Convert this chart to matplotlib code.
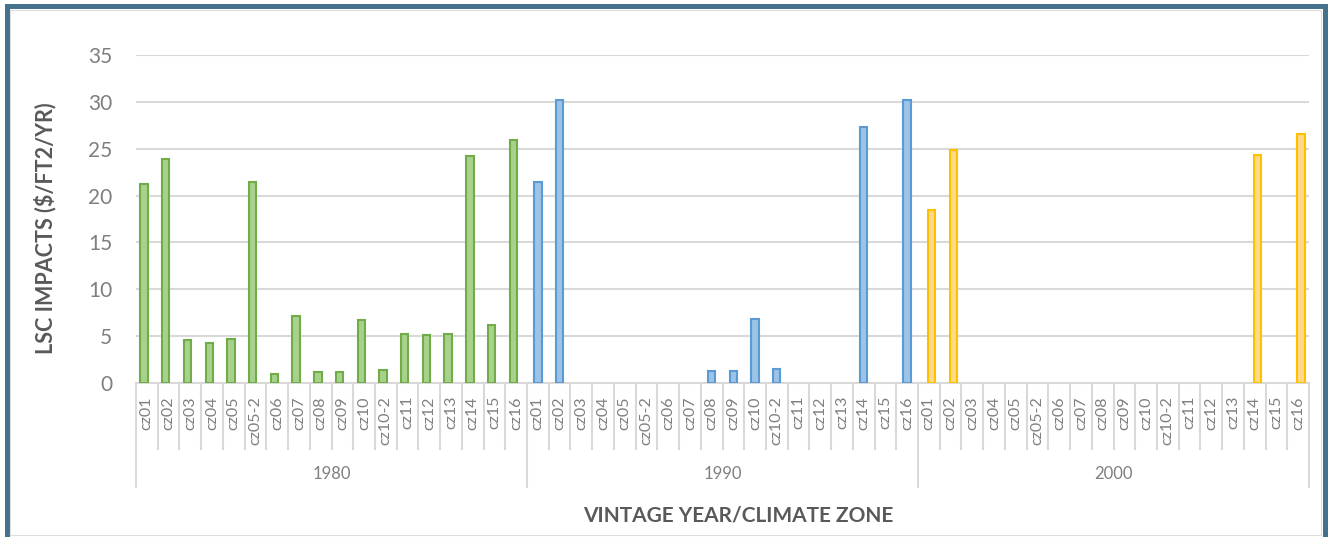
import numpy as np
import matplotlib.pyplot as plt
from matplotlib.patches import Rectangle
import matplotlib.transforms as mtransforms

# --- data ---
zones = ['cz01', 'cz02', 'cz03', 'cz04', 'cz05', 'cz05-2', 'cz06', 'cz07', 'cz08',
         'cz09', 'cz10', 'cz10-2', 'cz11', 'cz12', 'cz13', 'cz14', 'cz15', 'cz16']
years = ['1980', '1990', '2000']

lsc_1980 = [21.2, 23.9, 4.6, 4.3, 4.7, 21.5, 1.0, 7.1, 1.2,
            1.2, 6.7, 1.4, 5.2, 5.1, 5.2, 24.2, 6.2, 25.9]
lsc_1990 = [21.4, 30.2, 0, 0, 0, 0, 0, 0, 1.3,
            1.3, 6.8, 1.5, 0, 0, 0, 27.3, 0, 30.2]
lsc_2000 = [18.5, 24.9, 0, 0, 0, 0, 0, 0, 0,
            0, 0, 0, 0, 0, 0, 24.3, 0, 26.6]

fills = ['#A9D18E', '#9DC3E6', '#FFD98A']
edges = ['#70AD47', '#5B9BD5', '#FFC000']
# each year is its own series, so bars sit left / centre / right in the slot
shift = [-0.13, 0.0, 0.13]

plt.rcParams['font.family'] = ['Lato', 'DejaVu Sans']

fig = plt.figure(figsize=(13.3, 5.37), dpi=100)
W, H = 1330, 537

# outer frame (dark teal, bottom edge cut off)
fig.patches.append(Rectangle((7 / W, -0.05), 1318 / W, 1.05 - 6 / H, transform=fig.transFigure,
                             fill=False, edgecolor='#44728C', linewidth=3.6, zorder=0))
fig.patches.append(Rectangle((10 / W, 2 / H), 1311 / W, 1 - 12 / H, transform=fig.transFigure,
                             fill=False, edgecolor='#DDDDDD', linewidth=0.8, zorder=0))

ax = fig.add_axes([136 / W, 1 - 383 / H, 1173 / W, 328 / H])

n = len(zones)
for g, vals in enumerate([lsc_1980, lsc_1990, lsc_2000]):
    x = np.arange(n) + g * n + shift[g]
    v = np.array(vals)
    keep = v > 0
    ax.bar(x[keep], v[keep], width=0.34, color=fills[g], edgecolor=edges[g],
           linewidth=1.5, zorder=3)

ax.set_xlim(-0.5, 3 * n - 0.5)
ax.set_ylim(0, 35)
ax.set_yticks(np.arange(0, 36, 5))
ax.yaxis.grid(True, color='#D9D9D9', linewidth=1.5, zorder=0)
ax.set_axisbelow(True)
for s in ['top', 'right', 'left']:
    ax.spines[s].set_visible(False)
ax.spines['bottom'].set_color('#D9D9D9')
ax.spines['bottom'].set_linewidth(1.5)
ax.tick_params(axis='y', length=0, pad=17, labelsize=15, labelcolor='#7F7F7F')
ax.set_xticks([])

# category labels and separators below the axis
trans = mtransforms.blended_transform_factory(ax.transData, ax.transAxes)
ph = 328.0
for g in range(3):
    for i, z in enumerate(zones):
        ax.text(g * n + i, -13 / ph, z, rotation=90, ha='center', va='top',
                fontsize=11.5, color='#7F7F7F', transform=trans)
    ax.text(g * n + (n - 1) / 2, -91 / ph, years[g], ha='center', va='center',
            fontsize=12, color='#7F7F7F', transform=trans)
for k in range(3 * n + 1):
    depth = 104 if k % n == 0 else 66
    ax.plot([k - 0.5, k - 0.5], [0, -depth / ph], color='#D9D9D9', linewidth=1.5,
            transform=trans, clip_on=False)

fig.text(45 / W, 1 - 228 / H, 'LSC IMPACTS ($/FT2/YR)', rotation=90, ha='center', va='center',
         fontsize=15.5, fontweight='bold', color='#595959')
fig.text(738 / W, 1 - 515 / H, 'VINTAGE YEAR/CLIMATE ZONE', ha='center', va='center',
         fontsize=15, fontweight='bold', color='#595959')

fig.savefig('out.png', dpi=100)
